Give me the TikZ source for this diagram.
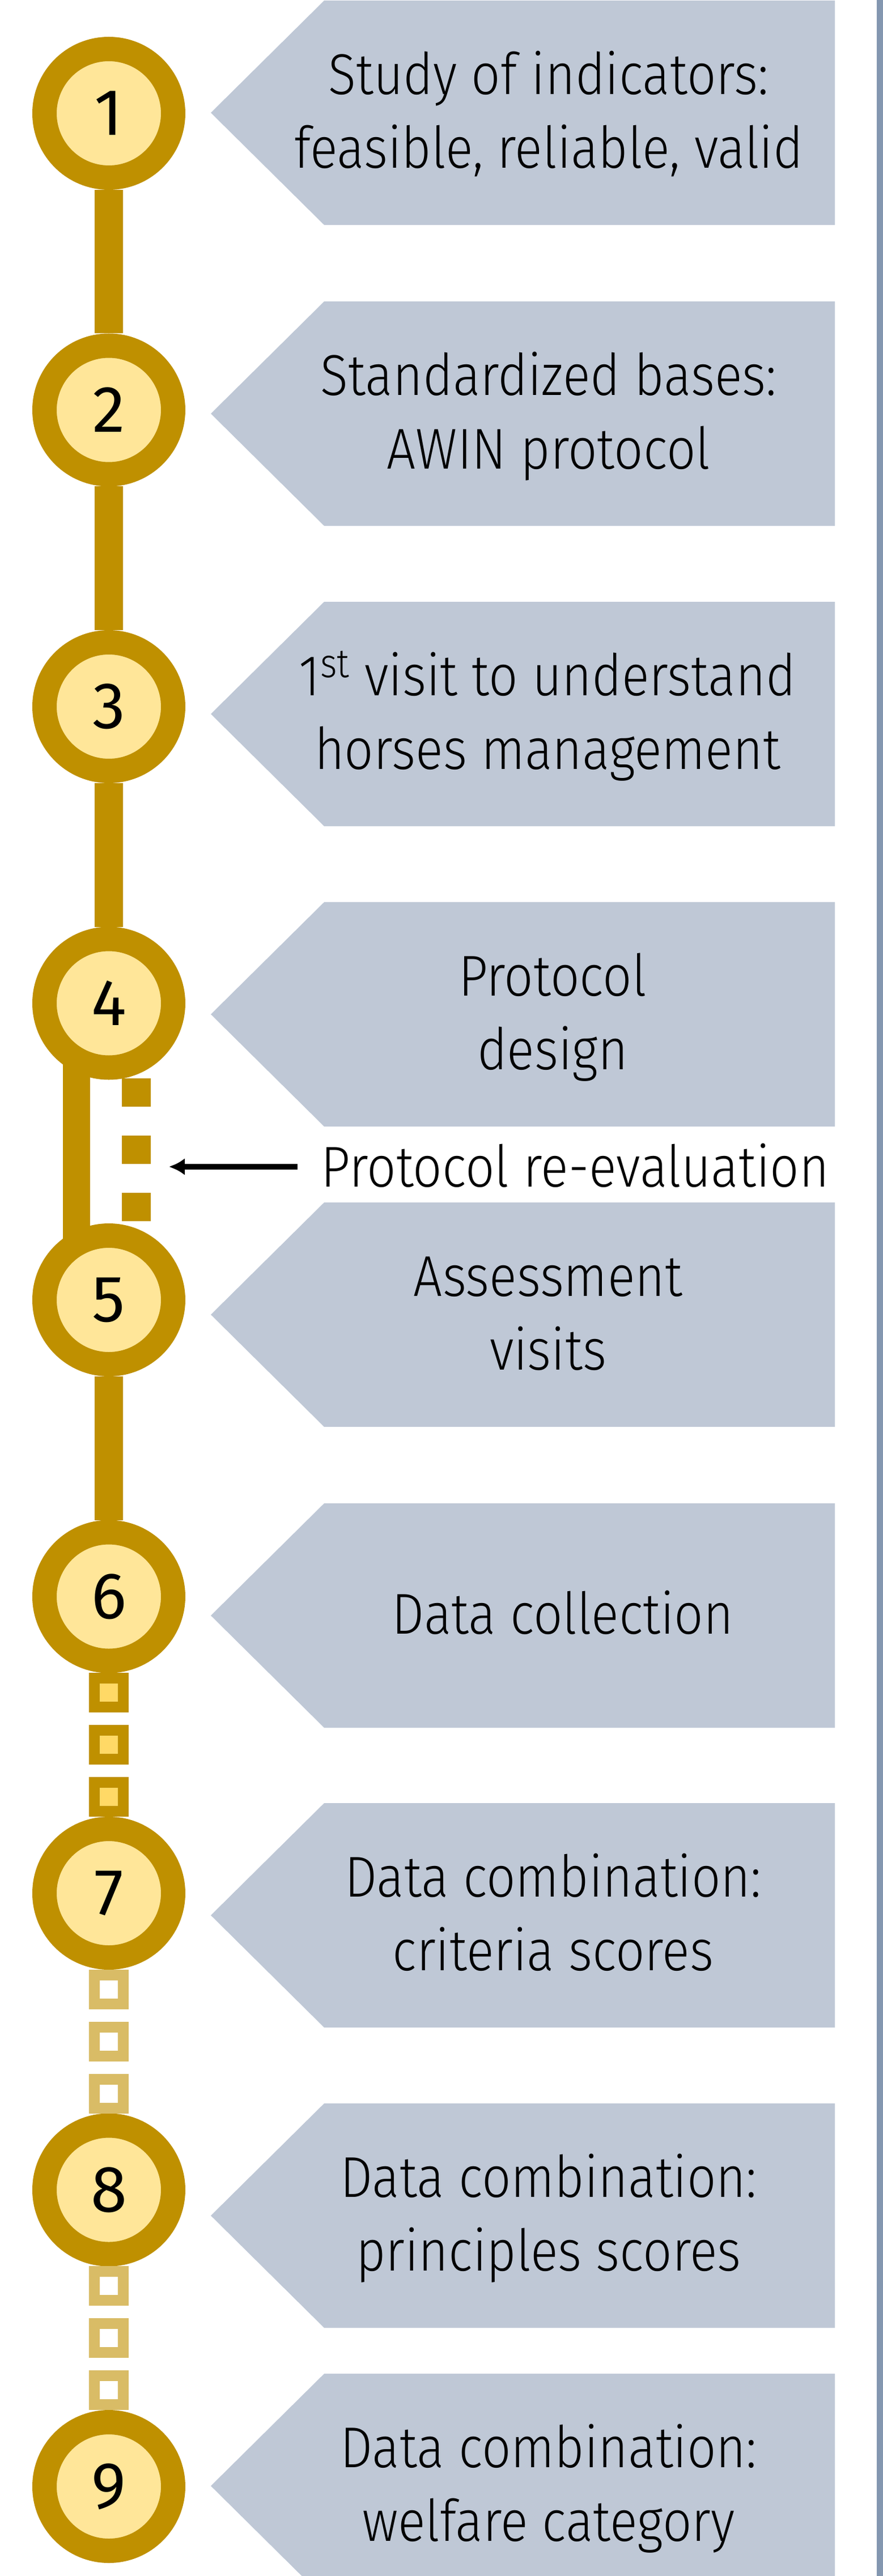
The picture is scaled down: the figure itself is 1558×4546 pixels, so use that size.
\documentclass[tikz,border=0pt]{standalone}
\usepackage{fontspec}
\setmainfont{Fira Sans Light}[FakeStretch=0.89]
\newfontfamily\numfont{Fira Sans}
\usetikzlibrary{arrows.meta,calc,backgrounds}
\definecolor{ring}{HTML}{BF9000}
\definecolor{core}{HTML}{FFE699}
\definecolor{dot}{HTML}{FFD966}
\definecolor{pane}{HTML}{BFC8D6}
\definecolor{edge}{HTML}{8497B0}
\newcommand{\sstrut}{\rule[-8.5pt]{0pt}{35.5pt}}
\newcommand{\twolines}[2]{\sstrut #1\\\sstrut #2}
\newcommand{\drawpane}[1]{\fill[pane] (1473,#1+198) -- (572,#1+198) -- (372,#1) -- (572,#1-198) -- (1473,#1-198) -- cycle;}

\begin{document}
\begin{tikzpicture}[x=0.1mm,y=0.1mm,
    stepnum/.style={circle,draw=ring,fill=core,line width=4.3mm,minimum size=22.7mm,inner sep=0pt,
      font=\numfont\fontsize{33}{33}\selectfont},
    steptext/.style={align=center,inner sep=0pt,font=\fontsize{28.9}{37}\selectfont},
    trunk/.style={ring,line width=5mm},
    bead/.style={rectangle,draw=ring,fill=dot,line width=1.9mm,minimum size=5.1mm,inner sep=0pt},
    ghostbead/.style={bead,draw=ring!60,fill=white}]
\useasboundingbox (0,0) rectangle (1558,-4546);
\fill[edge] (1547,0) rectangle (1558,-4546);
% arrow panes with their texts
\foreach \i/\c/\x/\t in {
    1/199/968/{\twolines{Study of indicators:}{feasible, reliable, valid}},
    2/730/968/{\twolines{Standardized bases:}{AWIN protocol}},
    3/1260/966/{\twolines{1\textsuperscript{st} visit to understand}{horses management}},
    4/1790/975/{\twolines{Protocol}{design}},
    5/2320/967/{\twolines{Assessment}{visits}},
    6/2851/993/{\sstrut Data collection},
    7/3380/976/{\twolines{Data combination:}{criteria scores}},
    8/3910/968/{\twolines{Data combination:}{principles scores}},
    9/4387/968/{\twolines{Data combination:}{welfare category}}}{
  \drawpane{-\c}
  \node[steptext] (t\i) at (\x,-\c) {\t};
}
% numbered steps
\foreach \i in {1,...,9}
  \node[stepnum] (n\i) at (192,{-200-(\i-1)*523.5}) {\i};
\draw[trunk] (n1) -- (n2);
\draw[trunk] (n2) -- (n3);
\draw[trunk] (n3) -- (n4);
\draw[trunk] (n5) -- (n6);
\begin{scope}[on background layer]
  \draw[trunk,line width=4.8mm] ([xshift=-5.7mm]n4.center) -- ([xshift=-5.7mm]n5.center);
  \draw[ring,line width=5.1mm,dash pattern=on 5mm off 5.1mm]
    ([xshift=4.8mm,yshift=-13.25mm]n4.center) -- ([xshift=4.8mm,yshift=13.9mm]n5.center);
\end{scope}
\foreach \a/\b/\s in {6/7/bead,7/8/ghostbead,8/9/ghostbead}
  \foreach \d/\k in {92/1,0/2,-92/3}
    \node[\s] (bead\a\k) at ($(n\a)!.5!(n\b)+(0,\d)$) {};
% re-evaluation loop
\coordinate (reevaltip) at (298,-2059);
\node[anchor=base west,inner xsep=4.1mm,inner ysep=0pt,font=\fontsize{28.9}{37}\selectfont]
  (reeval) at (525,-2094) {Protocol re-evaluation};
\draw[-{Latex[length=2.8mm,width=3mm]},line width=1mm] (reeval.west |- reevaltip) -- (reevaltip);
\end{tikzpicture}
\end{document}
